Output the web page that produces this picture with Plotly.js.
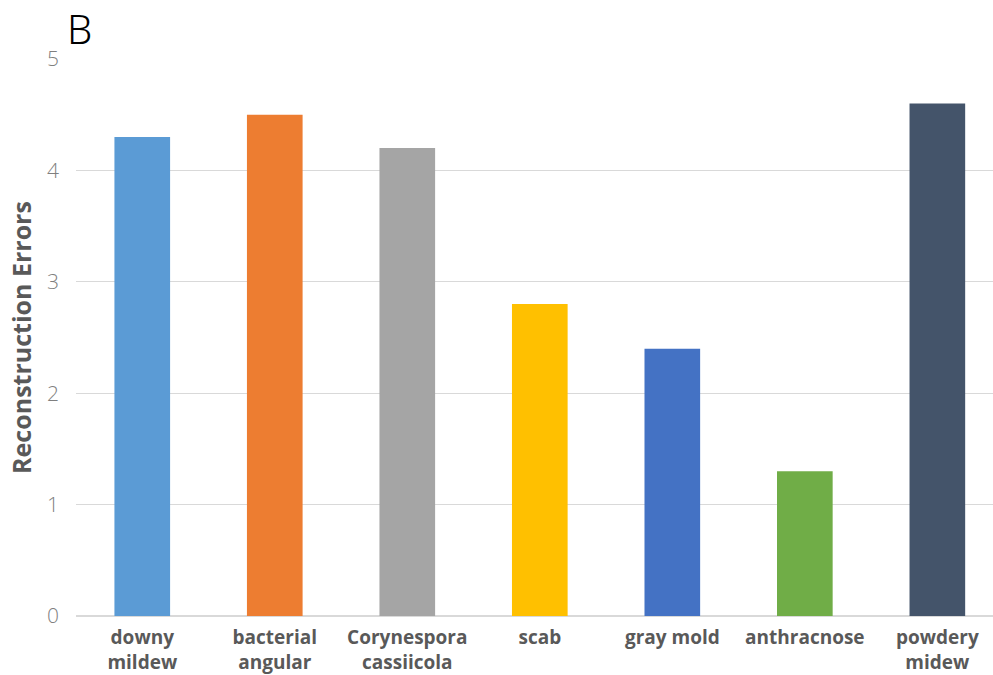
<!DOCTYPE html>
<html>
<head>
<meta charset="utf-8">
<script src="https://cdn.plot.ly/plotly-3.0.1.min.js"></script>
<style>html,body{margin:0;padding:0;background:#fff;overflow:hidden}</style>
</head>
<body>
<div id="chart" style="width:993px;height:675px"></div>
<script>
const categories = ["downy<br>mildew", "bacterial<br>angular", "Corynespora<br>cassiicola", "scab", "gray mold", "anthracnose", "powdery<br>midew"];
const values = [4.3, 4.5, 4.2, 2.8, 2.4, 1.3, 4.6];
const colors = ["#5B9BD5", "#ED7D31", "#A5A5A5", "#FFC000", "#4472C4", "#70AD47", "#44546A"];
const yTicks = [0, 1, 2, 3, 4, 5];

const trace = {
  type: "bar",
  x: categories,
  y: values,
  marker: {color: colors},
  hoverinfo: "x+y"
};

const layout = {
  width: 993,
  height: 675,
  margin: {l: 76, r: 0, t: 59, b: 59},
  paper_bgcolor: "#ffffff",
  plot_bgcolor: "#ffffff",
  bargap: 0.58,
  showlegend: false,
  title: {
    text: "B",
    font: {family: "Noto Sans, Open Sans, sans-serif", size: 40, color: "#000000", weight: 300},
    xref: "container", yref: "container",
    x: 67/993, xanchor: "left",
    y: 1 - 30/675, yanchor: "middle"
  },
  xaxis: {
    type: "category",
    range: [-0.5, 6.42],
    showgrid: false,
    showline: false,
    zeroline: false,
    ticks: "",
    ticklabelstandoff: 8,
    tickfont: {family: "Open Sans, sans-serif", size: 19, color: "#595959", weight: "bold"},
    fixedrange: true
  },
  yaxis: {
    range: [0, 5],
    tickvals: yTicks,
    ticktext: yTicks.map(String),
    showgrid: true,
    gridcolor: "#D9D9D9",
    gridwidth: 1.3,
    zeroline: true,
    zerolinecolor: "#D9D9D9",
    zerolinewidth: 1.5,
    showline: false,
    ticks: "",
    ticklabelstandoff: 16,
    tickfont: {family: "Open Sans, sans-serif", size: 21, color: "#7F7F7F", weight: 300},
    title: {
      text: "Reconstruction Errors",
      font: {family: "Open Sans, sans-serif", size: 25, color: "#595959", weight: "bold"},
      standoff: 8
    },
    fixedrange: true
  }
};

Plotly.newPlot("chart", [trace], layout, {displayModeBar: false, staticPlot: true});
</script>
</body>
</html>
